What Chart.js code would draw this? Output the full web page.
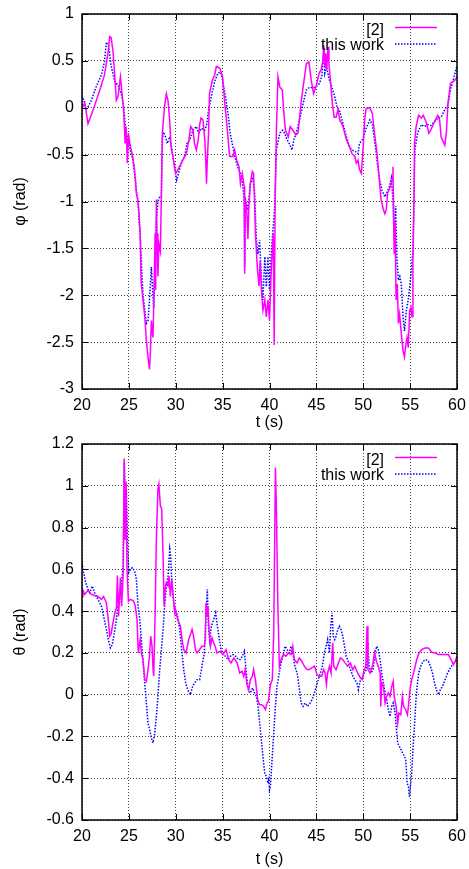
<!DOCTYPE html>
<html>
<head>
<meta charset="utf-8">
<title>phi / theta</title>
<script src="https://cdn.jsdelivr.net/npm/chart.js@4.4.0/dist/chart.umd.min.js"></script>
<style>
  html, body { margin: 0; padding: 0; background: #fff; }
  #wrap { position: relative; width: 469px; height: 869px; }
  canvas { position: absolute; left: 0; }
  #phiChart { top: 0; }
  #thetaChart { top: 432px; }
</style>
</head>
<body>
<div id="wrap">
  <canvas id="phiChart" width="469" height="432"></canvas>
  <canvas id="thetaChart" width="469" height="437"></canvas>
</div>
<script>
// Series labels
const seriesNames = ['[2]', 'this work'];

// Tick values on the axes
const timeTicks = [20, 25, 30, 35, 40, 45, 50, 55, 60];
const phiTicks = [-3, -2.5, -2, -1.5, -1, -0.5, 0, 0.5, 1];
const thetaTicks = [-0.6, -0.4, -0.2, 0, 0.2, 0.4, 0.6, 0.8, 1, 1.2];

// phi (rad) vs t (s), reference [2]
const phiRef = [
  [20.0, 0.0], [20.3, 0.05], [20.64, -0.17], [21.2, -0.02], [21.9, 0.19], [22.4, 0.35],
  [22.8, 0.6], [22.95, 0.76], [23.1, 0.75], [23.3, 0.61], [23.5, 0.33], [23.66, 0.08],
  [23.84, 0.12], [24.1, 0.33], [24.3, 0.12], [24.44, -0.02], [24.6, -0.38], [24.7, -0.2],
  [24.84, -0.59], [24.95, -0.27], [25.1, -0.38], [25.4, -0.52], [25.6, -0.66], [25.8, -0.91],
  [25.94, -0.98], [26.08, -1.13], [26.2, -1.34], [26.3, -1.84], [26.5, -2.05], [26.7, -2.23],
  [26.86, -2.48], [27.04, -2.66], [27.2, -2.79], [27.3, -2.59], [27.4, -2.27], [27.5, -2.41],
  [27.57, -2.45], [27.64, -2.16], [27.8, -1.34], [27.86, -1.94], [27.93, -0.98], [28.0, -1.34],
  [28.1, -1.8], [28.2, -1.45], [28.36, -1.53], [28.46, -0.98], [28.57, -0.27], [28.8, 0.01],
  [29.0, 0.15], [29.17, 0.08], [29.35, -0.13], [29.5, -0.42], [29.7, -0.52], [30.0, -0.7],
  [30.24, -0.66], [30.6, -0.59], [30.85, -0.54], [31.13, -0.49], [31.4, -0.34], [31.6, -0.2],
  [31.84, -0.24], [32.0, -0.38], [32.2, -0.45], [32.4, -0.34], [32.55, -0.18], [32.7, -0.11],
  [32.9, -0.13], [33.1, -0.34], [33.2, -0.56], [33.28, -0.81], [33.38, -0.52], [33.5, -0.27],
  [33.6, 0.15], [33.9, 0.29], [34.15, 0.35], [34.33, 0.44], [34.7, 0.42], [35.0, 0.33],
  [35.2, 0.08], [35.47, -0.2], [35.75, -0.52], [36.1, -0.52], [36.28, -0.45], [36.5, -0.56],
  [36.75, -0.63], [36.9, -0.81], [37.1, -0.7], [37.3, -0.84], [37.35, -1.77], [37.42, -0.98],
  [37.56, -1.06], [37.7, -1.4], [37.8, -1.05], [37.95, -0.81], [38.17, -0.68], [38.3, -0.7],
  [38.4, -0.98], [38.5, -1.34], [38.7, -1.7], [38.88, -1.9], [39.0, -1.63], [39.16, -1.98],
  [39.3, -2.16], [39.5, -2.05], [39.66, -2.23], [39.84, -2.05], [40.0, -2.27], [40.2, -1.7],
  [40.4, -1.34], [40.5, -2.53], [40.6, -0.98], [40.73, -0.27], [40.9, 0.33], [41.1, 0.22],
  [41.37, 0.19], [41.5, -0.02], [41.7, -0.24], [42.0, -0.31], [42.2, -0.2], [42.5, -0.24],
  [42.8, -0.29], [43.04, -0.27], [43.4, 0.08], [43.64, 0.26], [43.93, 0.47], [44.2, 0.49],
  [44.46, 0.29], [44.7, 0.15], [45.0, 0.24], [45.3, 0.37], [45.5, 0.4], [45.7, 0.51],
  [45.78, 0.67], [45.9, 0.44], [46.0, 0.58], [46.1, 0.4], [46.24, 0.65], [46.34, 0.47],
  [46.5, 0.29], [46.7, 0.05], [46.9, -0.1], [47.1, -0.1], [47.3, -0.02], [47.5, -0.13],
  [47.84, -0.2], [48.2, -0.34], [48.55, -0.42], [48.8, -0.49], [49.1, -0.52], [49.26, -0.59],
  [49.44, -0.56], [49.6, -0.66], [49.8, -0.7], [49.97, -0.45], [50.15, -0.13], [50.3, -0.01],
  [50.7, 0.0], [50.97, -0.06], [51.2, -0.27], [51.47, -0.49], [51.75, -0.81], [51.9, -0.98],
  [52.1, -1.07], [52.3, -1.13], [52.45, -1.09], [52.6, -0.91], [52.9, -0.84], [53.1, -0.74],
  [53.17, -0.63], [53.22, -0.98], [53.3, -1.56], [53.4, -1.2], [53.5, -2.05], [53.63, -1.88],
  [53.75, -2.3], [53.88, -2.2], [54.06, -2.41], [54.24, -2.59], [54.4, -2.66], [54.5, -2.56],
  [54.67, -2.45], [54.8, -2.56], [54.95, -2.16], [55.1, -2.13], [55.2, -2.23], [55.3, -1.63],
  [55.4, -1.05], [55.47, -0.38], [55.64, -0.2], [55.9, -0.08], [56.2, -0.11], [56.4, -0.08],
  [56.7, -0.15], [57.0, -0.27], [57.2, -0.24], [57.6, -0.15], [57.95, -0.08], [58.15, -0.13],
  [58.3, -0.31], [58.7, -0.4], [58.86, -0.27], [59.04, 0.05], [59.3, 0.26], [59.57, 0.28],
  [59.75, 0.29], [60.0, 0.33]
];

// phi (rad) vs t (s), this work
const phiOurs = [
  [20.0, 0.13], [20.2, 0.08], [20.4, -0.02], [20.64, 0.01], [21.0, 0.08], [21.5, 0.22],
  [22.06, 0.35], [22.4, 0.49], [22.6, 0.7], [22.85, 0.65], [23.1, 0.45], [23.5, 0.28],
  [23.84, 0.24], [24.2, 0.15], [24.44, 0.01], [24.66, -0.24], [24.9, -0.34], [25.15, -0.45],
  [25.44, -0.56], [25.7, -0.77], [25.87, -0.95], [26.0, -0.98], [26.08, -1.2], [26.2, -1.34],
  [26.36, -1.7], [26.5, -1.98], [26.7, -2.16], [26.86, -2.3], [27.04, -2.27], [27.2, -2.05],
  [27.4, -1.7], [27.5, -1.88], [27.64, -2.13], [27.8, -1.7], [27.93, -1.2], [28.1, -1.0],
  [28.3, -0.95], [28.46, -0.95], [28.57, -0.34], [28.7, -0.26], [28.9, -0.31], [29.1, -0.38],
  [29.35, -0.31], [29.6, -0.45], [29.9, -0.66], [30.1, -0.77], [30.4, -0.66], [30.7, -0.56],
  [30.95, -0.52], [31.2, -0.38], [31.5, -0.34], [31.84, -0.24], [32.2, -0.2], [32.45, -0.27],
  [32.7, -0.22], [33.1, -0.24], [33.3, -0.18], [33.5, -0.02], [33.8, 0.12], [34.15, 0.28],
  [34.5, 0.37], [34.8, 0.38], [35.0, 0.29], [35.3, 0.12], [35.6, -0.08], [35.8, -0.27],
  [36.1, -0.42], [36.4, -0.56], [36.6, -0.63], [36.9, -0.7], [37.1, -0.79], [37.3, -0.98],
  [37.35, -1.7], [37.42, -0.98], [37.7, -1.09], [37.95, -0.82], [38.2, -0.74], [38.4, -0.88],
  [38.6, -1.41], [38.76, -1.56], [38.95, -1.41], [39.16, -1.88], [39.3, -2.05], [39.5, -1.59],
  [39.66, -1.91], [39.84, -1.59], [40.0, -1.94], [40.2, -1.52], [40.4, -1.27], [40.56, -1.05],
  [40.73, -0.45], [41.1, -0.27], [41.4, -0.24], [41.6, -0.27], [41.87, -0.34], [42.1, -0.38],
  [42.4, -0.45], [42.6, -0.34], [42.86, -0.27], [43.2, -0.13], [43.6, 0.05], [43.93, 0.19],
  [44.3, 0.22], [44.64, 0.21], [45.0, 0.23], [45.35, 0.26], [45.6, 0.35], [45.8, 0.63],
  [45.9, 0.37], [46.06, 0.44], [46.2, 0.38], [46.4, 0.29], [46.66, 0.22], [46.95, 0.12],
  [47.2, 0.01], [47.5, -0.04], [47.84, -0.17], [48.2, -0.31], [48.55, -0.42], [48.8, -0.45],
  [49.2, -0.47], [49.44, -0.49], [49.6, -0.38], [49.97, -0.33], [50.3, -0.22], [50.7, -0.13],
  [50.97, -0.18], [51.2, -0.34], [51.5, -0.59], [51.75, -0.77], [52.0, -0.88], [52.3, -0.95],
  [52.5, -0.91], [52.8, -0.84], [53.0, -0.75], [53.17, -0.98], [53.3, -1.41], [53.45, -1.05],
  [53.6, -1.63], [53.75, -1.84], [53.9, -1.8], [54.06, -1.88], [54.24, -2.23], [54.4, -2.38],
  [54.6, -2.16], [54.8, -2.05], [54.95, -1.91], [55.1, -1.77], [55.3, -1.52], [55.4, -1.09],
  [55.5, -0.45], [55.8, -0.27], [56.2, -0.18], [56.5, -0.2], [56.9, -0.18], [57.2, -0.19],
  [57.6, -0.15], [57.95, -0.11], [58.3, -0.1], [58.7, -0.02], [59.04, 0.03], [59.3, 0.19],
  [59.57, 0.29], [59.8, 0.37], [60.0, 0.45]
];

// theta (rad) vs t (s), reference [2]
const thetaRef = [
  [20.0, 0.47], [20.1, 0.5], [20.3, 0.48], [20.64, 0.5], [21.0, 0.48], [21.35, 0.475],
  [21.7, 0.47], [22.07, 0.456], [22.3, 0.47], [22.6, 0.44], [22.8, 0.36], [22.96, 0.28],
  [23.1, 0.29], [23.3, 0.344], [23.5, 0.39], [23.67, 0.416], [23.78, 0.57], [23.9, 0.376],
  [24.0, 0.47], [24.1, 0.56], [24.23, 0.424], [24.4, 0.584], [24.5, 1.13], [24.6, 0.74],
  [24.7, 1.02], [24.8, 0.6], [24.95, 0.448], [25.16, 0.456], [25.45, 0.45], [25.66, 0.43],
  [25.87, 0.36], [26.0, 0.2], [26.2, 0.264], [26.33, 0.2], [26.5, 0.168], [26.7, 0.072],
  [26.87, 0.064], [27.04, 0.12], [27.2, 0.184], [27.33, 0.28], [27.47, 0.232], [27.58, 0.12],
  [27.65, 0.09], [27.8, 0.39], [27.93, 0.744], [28.1, 0.984], [28.2, 1.008], [28.36, 0.904],
  [28.5, 0.888], [28.65, 0.664], [28.75, 0.424], [28.9, 0.52], [29.0, 0.536], [29.18, 0.52],
  [29.28, 0.568], [29.43, 0.47], [29.57, 0.552], [29.7, 0.488], [29.9, 0.392], [29.96, 0.408],
  [30.2, 0.36], [30.5, 0.328], [30.67, 0.264], [30.85, 0.216], [31.1, 0.2], [31.38, 0.264],
  [31.63, 0.296], [31.74, 0.312], [31.9, 0.28], [32.1, 0.216], [32.27, 0.2], [32.55, 0.216],
  [32.8, 0.232], [33.05, 0.232], [33.16, 0.264], [33.23, 0.44], [33.34, 0.376], [33.44, 0.424],
  [33.55, 0.312], [33.7, 0.232], [33.87, 0.272], [34.05, 0.248], [34.2, 0.232], [34.4, 0.2],
  [34.76, 0.208], [35.04, 0.192], [35.36, 0.216], [35.65, 0.168], [35.9, 0.152], [36.2, 0.176],
  [36.54, 0.152], [36.82, 0.104], [37.07, 0.112], [37.25, 0.088], [37.4, 0.12], [37.6, 0.048],
  [37.78, 0.024], [37.96, 0.072], [38.17, 0.088], [38.3, 0.12], [38.5, 0.072], [38.74, -0.024],
  [38.95, -0.048], [39.17, -0.048], [39.38, -0.056], [39.56, -0.072], [39.74, -0.04], [39.88, -0.032],
  [40.1, 0.048], [40.3, 0.072], [40.45, 0.296], [40.52, 0.584], [40.63, 1.088], [40.73, 0.904],
  [40.88, 0.456], [41.05, 0.136], [41.23, 0.168], [41.5, 0.192], [41.77, 0.184], [42.0, 0.2],
  [42.3, 0.192], [42.48, 0.232], [42.65, 0.168], [42.94, 0.152], [43.19, 0.176], [43.44, 0.16],
  [43.72, 0.136], [44.0, 0.12], [44.26, 0.12], [44.5, 0.128], [44.8, 0.136], [45.07, 0.096],
  [45.3, 0.088], [45.57, 0.088], [45.78, 0.12], [45.93, 0.104], [46.07, 0.048], [46.2, 0.104],
  [46.4, 0.136], [46.57, 0.104], [46.74, 0.248], [46.85, 0.136], [47.1, 0.12], [47.35, 0.152],
  [47.56, 0.176], [47.81, 0.168], [48.06, 0.152], [48.34, 0.136], [48.63, 0.152], [48.88, 0.12],
  [49.1, 0.136], [49.4, 0.104], [49.7, 0.08], [49.9, 0.072], [50.1, 0.12], [50.27, 0.136],
  [50.4, 0.328], [50.5, 0.12], [50.73, 0.104], [50.98, 0.136], [51.2, 0.2], [51.4, 0.16],
  [51.6, 0.136], [51.8, 0.104], [51.87, -0.056], [51.97, 0.056], [52.15, 0.04], [52.33, -0.04],
  [52.5, -0.008], [52.68, 0.008], [52.86, -0.008], [53.04, 0.04], [53.2, 0.064], [53.3, -0.008],
  [53.5, -0.056], [53.68, -0.136], [53.8, -0.088], [54.0, -0.096], [54.18, -0.008], [54.3, -0.056],
  [54.53, -0.072], [54.71, -0.096], [54.82, -0.056], [55.0, 0.032], [55.17, 0.072], [55.46, 0.12],
  [55.7, 0.168], [55.96, 0.2], [56.24, 0.216], [56.6, 0.224], [56.95, 0.224], [57.3, 0.203],
  [57.66, 0.2], [58.02, 0.192], [58.37, 0.192], [58.73, 0.192], [59.08, 0.192], [59.37, 0.168],
  [59.62, 0.144], [59.8, 0.16], [60.0, 0.184]
];

// theta (rad) vs t (s), this work
const thetaOurs = [
  [20.0, 0.632], [20.18, 0.584], [20.4, 0.536], [20.64, 0.504], [20.82, 0.488], [21.1, 0.52],
  [21.35, 0.488], [21.7, 0.456], [22.07, 0.424], [22.3, 0.376], [22.6, 0.312], [22.8, 0.264],
  [23.03, 0.224], [23.24, 0.24], [23.45, 0.296], [23.67, 0.36], [23.84, 0.424], [24.0, 0.44],
  [24.2, 0.52], [24.38, 0.616], [24.52, 1.11], [24.63, 0.904], [24.73, 0.984], [24.84, 0.744],
  [24.98, 0.584], [25.16, 0.6], [25.37, 0.608], [25.62, 0.592], [25.8, 0.552], [25.98, 0.424],
  [26.16, 0.36], [26.33, 0.264], [26.5, 0.168], [26.69, 0.056], [26.87, -0.04], [27.04, -0.136],
  [27.22, -0.168], [27.4, -0.208], [27.58, -0.23], [27.76, -0.184], [27.93, -0.104], [28.1, -0.008],
  [28.29, 0.12], [28.47, 0.216], [28.65, 0.312], [28.82, 0.424], [29.0, 0.52], [29.18, 0.568],
  [29.36, 0.696], [29.46, 0.664], [29.57, 0.552], [29.71, 0.472], [29.89, 0.392], [29.96, 0.408],
  [30.2, 0.376], [30.42, 0.312], [30.63, 0.216], [30.85, 0.12], [31.06, 0.056], [31.27, 0.024],
  [31.56, 0.0], [31.8, 0.04], [32.02, 0.056], [32.27, 0.072], [32.55, 0.072], [32.8, 0.136],
  [33.05, 0.2], [33.23, 0.392], [33.37, 0.504], [33.48, 0.328], [33.62, 0.264], [33.8, 0.328],
  [34.05, 0.36], [34.26, 0.392], [34.44, 0.328], [34.6, 0.28], [34.83, 0.216], [35.04, 0.192],
  [35.3, 0.184], [35.58, 0.168], [35.83, 0.184], [36.1, 0.192], [36.4, 0.184], [36.68, 0.168],
  [36.9, 0.168], [37.1, 0.184], [37.32, 0.208], [37.46, 0.136], [37.6, 0.072], [37.78, 0.016],
  [37.96, 0.008], [38.2, 0.032], [38.42, 0.008], [38.6, -0.008], [38.78, -0.056], [38.95, -0.136],
  [39.13, -0.216], [39.3, -0.296], [39.49, -0.376], [39.67, -0.392], [39.84, -0.424], [39.92, -0.408],
  [40.0, -0.456], [40.1, -0.44], [40.27, -0.312], [40.45, -0.184], [40.63, -0.056], [40.8, 0.04],
  [40.98, 0.088], [41.16, 0.136], [41.41, 0.184], [41.66, 0.232], [41.87, 0.216], [42.1, 0.2],
  [42.3, 0.232], [42.5, 0.2], [42.7, 0.136], [42.94, 0.104], [43.15, 0.04], [43.37, -0.04],
  [43.58, -0.056], [43.79, -0.04], [44.08, -0.056], [44.33, -0.04], [44.54, -0.024], [44.79, 0.008],
  [45.0, 0.04], [45.2, 0.072], [45.43, 0.104], [45.64, 0.136], [45.86, 0.2], [46.03, 0.232],
  [46.2, 0.264], [46.4, 0.2], [46.53, 0.328], [46.67, 0.392], [46.8, 0.28], [46.96, 0.264],
  [47.1, 0.28], [47.28, 0.312], [47.45, 0.328], [47.63, 0.312], [47.81, 0.28], [48.0, 0.232],
  [48.17, 0.184], [48.34, 0.168], [48.52, 0.136], [48.7, 0.112], [48.9, 0.088], [49.1, 0.072],
  [49.34, 0.056], [49.48, 0.024], [49.7, 0.072], [49.95, 0.088], [50.1, 0.104], [50.34, 0.12],
  [50.48, 0.248], [50.62, 0.136], [50.84, 0.104], [51.05, 0.12], [51.26, 0.2], [51.44, 0.232],
  [51.6, 0.216], [51.8, 0.168], [51.97, 0.104], [52.15, 0.056], [52.33, 0.008], [52.5, -0.024],
  [52.68, -0.072], [52.86, -0.104], [53.04, -0.056], [53.2, -0.04], [53.4, -0.088], [53.54, -0.168],
  [53.68, -0.232], [53.86, -0.248], [54.04, -0.264], [54.2, -0.28], [54.4, -0.296], [54.53, -0.312],
  [54.68, -0.424], [54.82, -0.44], [54.92, -0.488], [55.03, -0.44], [55.17, -0.376], [55.3, -0.264],
  [55.46, -0.152], [55.6, -0.04], [55.74, 0.04], [55.92, 0.104], [56.13, 0.136], [56.38, 0.16],
  [56.67, 0.168], [56.95, 0.16], [57.17, 0.136], [57.38, 0.104], [57.6, 0.056], [57.8, 0.024],
  [58.02, 0.0], [58.23, 0.024], [58.45, 0.04], [58.73, 0.072], [59.0, 0.104], [59.3, 0.128],
  [59.6, 0.148], [59.87, 0.16], [60.0, 0.165]
];

Chart.defaults.font.family = "'Liberation Sans', Arial, Helvetica, sans-serif";
Chart.defaults.font.size = 16;
Chart.defaults.color = '#000';

// Gnuplot style frame with inward ticks
const framePlugin = {
  id: 'frame',
  afterDatasetsDraw(chart) {
    const { ctx, chartArea: a, scales } = chart;
    ctx.save();
    ctx.strokeStyle = '#000';
    ctx.lineWidth = 1;
    ctx.beginPath();
    scales.x.ticks.forEach(t => {
      const px = Math.round(scales.x.getPixelForValue(t.value)) + 0.5;
      ctx.moveTo(px, a.bottom); ctx.lineTo(px, a.bottom - 6);
      ctx.moveTo(px, a.top); ctx.lineTo(px, a.top + 6);
    });
    scales.y.ticks.forEach(t => {
      const py = Math.round(scales.y.getPixelForValue(t.value)) + 0.5;
      ctx.moveTo(a.left, py); ctx.lineTo(a.left + 6, py);
      ctx.moveTo(a.right, py); ctx.lineTo(a.right - 6, py);
    });
    ctx.stroke();
    ctx.lineWidth = 1.5;
    ctx.strokeRect(a.left, a.top, a.right - a.left, a.bottom - a.top);
    ctx.restore();
  }
};

// Key in the top right corner: text then line sample
const keyPlugin = {
  id: 'key',
  afterDraw(chart) {
    const { ctx, chartArea: a } = chart;
    ctx.save();
    ctx.font = "16px 'Liberation Sans', Arial, sans-serif";
    ctx.fillStyle = '#000';
    ctx.textAlign = 'right';
    ctx.textBaseline = 'alphabetic';
    chart.data.datasets.forEach((ds, i) => {
      const base = a.top + 21 + i * 14.5;
      const ly = a.top + 13.5 + i * 16.5;
      ctx.fillText(ds.label, a.right - 73, base);
      ctx.strokeStyle = ds.borderColor;
      ctx.lineWidth = ds.borderWidth;
      ctx.setLineDash(ds.borderDash || []);
      ctx.beginPath();
      ctx.moveTo(a.right - 62, ly);
      ctx.lineTo(a.right - 20, ly);
      ctx.stroke();
    });
    ctx.restore();
  }
};

function toPoints(pairs) {
  return pairs.map(p => ({ x: p[0], y: p[1] }));
}

function makeChart(id, refData, oursData, yTicks, yTitle, padTop, axisH) {
  const ctx = document.getElementById(id).getContext('2d');
  return new Chart(ctx, {
    type: 'line',
    data: {
      datasets: [{
        label: seriesNames[0],
        data: toPoints(refData),
        borderColor: '#ff00ff',
        borderWidth: 1.5,
        pointRadius: 0,
        tension: 0
      }, {
        label: seriesNames[1],
        data: toPoints(oursData),
        borderColor: '#0000ff',
        borderWidth: 1.5,
        borderDash: [1.5, 1.5],
        pointRadius: 0,
        tension: 0
      }]
    },
    options: {
      responsive: false,
      animation: false,
      layout: { padding: { top: padTop, right: 12, left: 0, bottom: 0 } },
      plugins: { legend: { display: false }, tooltip: { enabled: false } },
      scales: {
        x: {
          type: 'linear',
          min: timeTicks[0],
          max: timeTicks[timeTicks.length - 1],
          afterBuildTicks: s => { s.ticks = timeTicks.map(v => ({ value: v })); },
          afterFit: s => { s.height = axisH; s.paddingLeft = 0; s.paddingRight = 0; },
          grid: { color: 'rgba(0,0,0,0.75)', lineWidth: 1, drawTicks: false },
          border: { display: false, dash: [1, 2] },
          ticks: { padding: 7, maxRotation: 0, callback: v => String(v) },
          title: { display: true, text: 't (s)', padding: { top: 0, bottom: 0 } }
        },
        y: {
          type: 'linear',
          min: yTicks[0],
          max: yTicks[yTicks.length - 1],
          afterBuildTicks: s => { s.ticks = yTicks.map(v => ({ value: v })); },
          afterFit: s => { s.width = 82; s.paddingTop = 0; s.paddingBottom = 0; },
          grid: { color: 'rgba(0,0,0,0.75)', lineWidth: 1, drawTicks: false },
          border: { display: false, dash: [1, 2] },
          ticks: { padding: 8, callback: v => String(v) },
          title: { display: true, text: yTitle, padding: { top: 11, bottom: 0 } }
        }
      }
    },
    plugins: [framePlugin, keyPlugin]
  });
}

makeChart('phiChart', phiRef, phiOurs, phiTicks, 'φ (rad)', 14, 43);
makeChart('thetaChart', thetaRef, thetaOurs, thetaTicks, 'θ (rad)', 12, 49);
</script>
</body>
</html>
